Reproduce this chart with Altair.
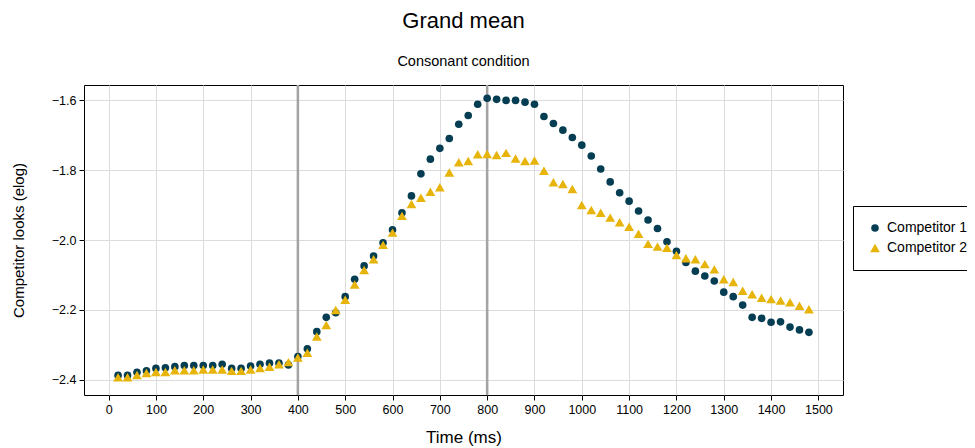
import altair as alt
import pandas as pd

times = list(range(20, 1500, 20))

competitor_1 = [
    -2.387, -2.387, -2.378, -2.374, -2.367, -2.365, -2.362, -2.359, -2.359, -2.359,
    -2.359, -2.355, -2.367, -2.367, -2.360, -2.355, -2.352, -2.352, -2.357, -2.333,
    -2.311, -2.262, -2.221, -2.208, -2.162, -2.112, -2.074, -2.046, -2.008, -1.971,
    -1.922, -1.874, -1.811, -1.769, -1.738, -1.710, -1.669, -1.644, -1.612, -1.595,
    -1.598, -1.601, -1.601, -1.606, -1.612, -1.647, -1.667, -1.686, -1.707, -1.729,
    -1.760, -1.797, -1.834, -1.865, -1.889, -1.917, -1.943, -1.967, -2.005, -2.032,
    -2.064, -2.089, -2.103, -2.117, -2.149, -2.162, -2.186, -2.221, -2.224, -2.235,
    -2.234, -2.249, -2.257, -2.264,
]

competitor_2 = [
    -2.392, -2.392, -2.386, -2.380, -2.377, -2.377, -2.372, -2.372, -2.372, -2.370,
    -2.370, -2.370, -2.374, -2.374, -2.370, -2.366, -2.362, -2.355, -2.349, -2.336,
    -2.322, -2.276, -2.243, -2.200, -2.171, -2.127, -2.086, -2.055, -2.014, -1.979,
    -1.931, -1.897, -1.879, -1.862, -1.849, -1.807, -1.778, -1.774, -1.755, -1.754,
    -1.757, -1.751, -1.767, -1.774, -1.773, -1.802, -1.835, -1.840, -1.854, -1.900,
    -1.914, -1.922, -1.936, -1.949, -1.962, -1.982, -2.011, -2.019, -2.022, -2.043,
    -2.052, -2.055, -2.069, -2.084, -2.112, -2.120, -2.145, -2.155, -2.165, -2.169,
    -2.173, -2.178, -2.188, -2.198,
]

series_names = ["Competitor 1", "Competitor 2"]
series_colors = ["#053d52", "#e6b40a"]
series_shapes = ["circle", "triangle-up"]
series_sizes = [58, 95]
marker_lines = [400, 800]
x_ticks = list(range(0, 1600, 100))
y_ticks = [-2.4, -2.2, -2.0, -1.8, -1.6]

rows = []
for name, vals in zip(series_names, [competitor_1, competitor_2]):
    for t, v in zip(times, vals):
        rows.append({"time": t, "value": v, "series": name})
df = pd.DataFrame(rows)
vdf = pd.DataFrame({"time": marker_lines})

xscale = alt.Scale(domain=[-52, 1552], nice=False, zero=False)
yscale = alt.Scale(domain=[-2.443, -1.557], nice=False, zero=False)

rules = alt.Chart(vdf).mark_rule(color="#a3a3a3", strokeWidth=2.5).encode(
    x=alt.X("time:Q", scale=xscale)
)

points = alt.Chart(df).mark_point(filled=True, opacity=1).encode(
    x=alt.X(
        "time:Q",
        scale=xscale,
        axis=alt.Axis(values=x_ticks, title="Time (ms)", format="d",
                      titleFontSize=17, titlePadding=14),
    ),
    y=alt.Y(
        "value:Q",
        scale=yscale,
        axis=alt.Axis(values=y_ticks, title="Competitor looks (elog)", format=".1f",
                      titleFontSize=15, titlePadding=25),
    ),
    color=alt.Color(
        "series:N",
        scale=alt.Scale(domain=series_names, range=series_colors),
        legend=alt.Legend(
            title=None,
            orient="none",
            legendX=769,
            legendY=121,
            strokeColor="black",
            padding=15,
            labelFontSize=14,
            labelOffset=5,
            symbolSize=60,
            rowPadding=6,
        ),
    ),
    shape=alt.Shape(
        "series:N",
        scale=alt.Scale(domain=series_names, range=series_shapes),
    ),
    size=alt.Size(
        "series:N",
        scale=alt.Scale(domain=series_names, range=series_sizes),
        legend=None,
    ),
)

chart = (
    alt.layer(rules, points)
    .properties(
        width=759,
        height=310,
        autosize=alt.AutoSizeParams(type="none"),
        padding={"left": 76, "top": 77, "right": 124, "bottom": 53},
        title=alt.TitleParams(
            text="Grand mean",
            subtitle="Consonant condition",
            fontSize=22,
            fontWeight="normal",
            subtitleFontSize=14.5,
            subtitleColor="black",
            color="black",
            anchor="middle",
            offset=14,
            subtitlePadding=22,
        ),
    )
    .configure(font="Liberation Sans")
    .configure_view(stroke="black", strokeWidth=1)
    .configure_axis(
        grid=True,
        gridColor="#dcdcdc",
        gridWidth=1,
        domain=False,
        tickColor="black",
        tickSize=5,
        labelFontSize=12.5,
        labelColor="black",
        titleFontWeight="normal",
        titleColor="black",
    )
    .configure_axisX(labelPadding=3)
    .configure_axisY(labelPadding=3)
)

chart.save("out.html", embed_options={"renderer": "svg", "actions": False})
